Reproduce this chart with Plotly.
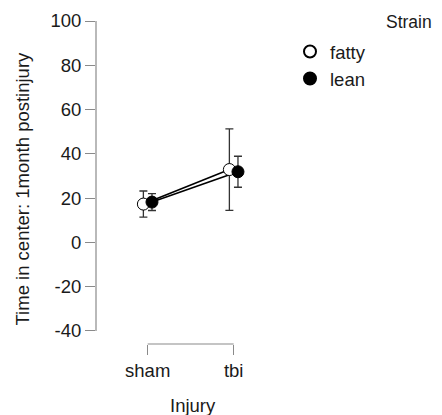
import plotly.graph_objects as go

injury = ["sham", "tbi"]
strains = ["fatty", "lean"]
fatty_mean = [17.3, 32.9]
fatty_err = [5.9, 18.4]
lean_mean = [18.2, 31.9]
lean_err = [3.8, 7.0]
ytick_vals = [-40, -20, 0, 20, 40, 60, 80, 100]
ytick_text = ["-40", "-20", "0", "20", "40", "60", "80", "100"]

FONT = "Liberation Sans, Arial, Helvetica, sans-serif"
FS = 18.5
TXT = "#1a1a1a"
AX = "#8a8a8a"
dodge = 0.05
xpos = [i + 1 for i in range(len(injury))]

fig = go.Figure()

series = [
    ("fatty", fatty_mean, fatty_err, "white", -dodge),
    ("lean", lean_mean, lean_err, "black", dodge),
]
for name, m, e, fill, off in series:
    xs = [x + off for x in xpos]
    fig.add_trace(go.Scatter(
        x=xs, y=m, mode="lines", line=dict(color="black", width=1.6),
        showlegend=False, hoverinfo="skip"))
for name, m, e, fill, off in series:
    xs = [x + off for x in xpos]
    fig.add_trace(go.Scatter(
        x=xs, y=m, mode="markers", name=name,
        marker=dict(symbol="circle", size=12, color=fill,
                    line=dict(color="black", width=1)),
        error_y=dict(type="data", array=e, visible=True, color="#333333",
                     thickness=1.3, width=4)))

# axis lines (R-style, spanning only the tick range)
fig.add_shape(type="line", xref="paper", yref="y", x0=0, x1=0, y0=-40, y1=100,
              line=dict(color=AX, width=1.2))
fig.add_shape(type="line", xref="x", yref="paper", x0=xpos[0], x1=xpos[-1], y0=0, y1=0,
              line=dict(color=AX, width=1.2))

fig.update_layout(
    width=434, height=407,
    margin=dict(l=88, r=152, t=13, b=71, autoexpand=False),
    paper_bgcolor="white", plot_bgcolor="white",
    font=dict(family=FONT, size=FS, color=TXT),
    showlegend=True,
    legend=dict(x=1.0, y=0.963, xanchor="left", yanchor="top",
                font=dict(size=FS, color=TXT),
                itemsizing="constant", tracegroupgap=0, bgcolor="rgba(0,0,0,0)"),
    xaxis=dict(range=[0.399, 2.655], tickmode="array", tickvals=xpos, ticktext=injury,
               showgrid=False, zeroline=False, showline=False, automargin=False,
               ticks="outside", ticklen=10, tickcolor=AX, tickwidth=1.2,
               tickfont=dict(size=FS, color=TXT)),
    yaxis=dict(range=[-45.9, 100], tickmode="array", tickvals=ytick_vals,
               ticktext=ytick_text, automargin=False,
               showgrid=False, zeroline=False, showline=False,
               ticks="outside", ticklen=10, tickcolor=AX, tickwidth=1.2,
               tickfont=dict(size=FS, color=TXT)),
    annotations=[
        dict(text="Injury", xref="paper", yref="paper", x=0.5, y=0,
             yshift=-61, xanchor="center", yanchor="middle", showarrow=False,
             font=dict(size=FS, color=TXT)),
        dict(text="Time in center: 1month postinjury", xref="paper", yref="paper",
             x=0, y=0.5, xshift=-74, yshift=-6, textangle=-90, xanchor="center",
             yanchor="middle", showarrow=False, font=dict(size=FS, color=TXT)),
        dict(text="Strain", xref="paper", yref="paper", x=1, y=1, xshift=144,
             yshift=-1, xanchor="right", yanchor="middle", showarrow=False,
             font=dict(size=17.5, color=TXT)),
    ],
)

fig.write_html("out.html")
